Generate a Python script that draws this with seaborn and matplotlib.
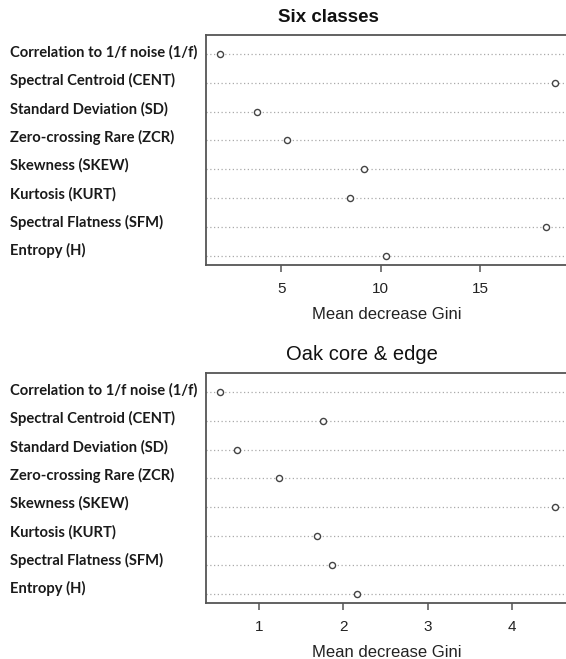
import matplotlib
matplotlib.use("Agg")
import matplotlib.pyplot as plt
import matplotlib.transforms as mtransforms
import seaborn as sns
import pandas as pd

features = [
    "Correlation to 1/f noise (1/f)",
    "Spectral Centroid (CENT)",
    "Standard Deviation (SD)",
    "Zero-crossing Rare (ZCR)",
    "Skewness (SKEW)",
    "Kurtosis (KURT)",
    "Spectral Flatness (SFM)",
    "Entropy (H)",
]
six_classes = [1.89, 18.76, 3.79, 5.28, 9.17, 8.47, 18.31, 10.27]
oak_core_edge = [0.54, 1.76, 0.74, 1.24, 4.51, 1.69, 1.86, 2.16]

titles = ["Six classes", "Oak core & edge"]
xlabel = "Mean decrease Gini"
top_ticks = [5, 10, 15]
bottom_ticks = [1, 2, 3, 4]

sns.set_theme(style="white")
plt.rcParams["font.family"] = ["Liberation Sans", "DejaVu Sans"]

W, H = 566, 659
fig = plt.figure(figsize=(W / 100, H / 100), dpi=100)

def fx(px):
    return px / W

def fy(py):
    return 1 - py / H

ax_left = 206
ax_right = 568.5
panels = [
    dict(values=six_classes, top=35, bottom=265, xlim=(1.21, 19.44), ticks=top_ticks,
         title=titles[0], title_x=328, title_y=18, title_weight="bold", title_size=13.5),
    dict(values=oak_core_edge, top=373, bottom=603, xlim=(0.37, 4.67), ticks=bottom_ticks,
         title=titles[1], title_x=361.5, title_y=354, title_weight="normal", title_size=14.5),
]

edge = "#555555"
for p in panels:
    ax = fig.add_axes([fx(ax_left), fy(p["bottom"]), fx(ax_right - ax_left),
                       (p["bottom"] - p["top"]) / H])
    df = pd.DataFrame({"feature": features, "gini": p["values"]})
    sns.stripplot(data=df, x="gini", y="feature", order=features, orient="h",
                  jitter=False, ax=ax, marker="o", size=4.4,
                  color="white", edgecolor="#444444", linewidth=1.0, zorder=3)
    ax.set_xlim(*p["xlim"])
    ax.set_ylim(7.33, -0.66)
    ax.set_xticks(p["ticks"])
    ax.set_xticklabels([str(t) for t in p["ticks"]], fontsize=11, color="#222222")
    ax.tick_params(axis="x", bottom=True, length=5, width=1.1, color=edge, pad=7)
    ax.tick_params(axis="y", left=False, labelleft=False)
    ax.set_ylabel("")
    ax.set_xlabel(xlabel, fontsize=12, color="#222222", labelpad=8)
    ax.yaxis.grid(True, linestyle=(0, (1, 2)), color="#aaaaaa", linewidth=0.9)
    ax.xaxis.grid(False)
    for s in ["left", "top", "bottom"]:
        ax.spines[s].set_color(edge)
        ax.spines[s].set_linewidth(1.3)
    ax.spines["right"].set_visible(False)
    trans = mtransforms.blended_transform_factory(fig.transFigure, ax.transData)
    for i, name in enumerate(features):
        ax.text(fx(10), i - 0.06 - 0.015 * i, name, transform=trans, ha="left", va="center",
                fontsize=10.6, fontweight="bold", color="#1a1a1a",
                family=["Lato", "DejaVu Sans"], clip_on=False)
    fig.text(fx(p["title_x"]), fy(p["title_y"]), p["title"], ha="center", va="center",
             fontsize=p["title_size"], fontweight=p["title_weight"], color="#111111")

fig.savefig("out.png", dpi=100)
